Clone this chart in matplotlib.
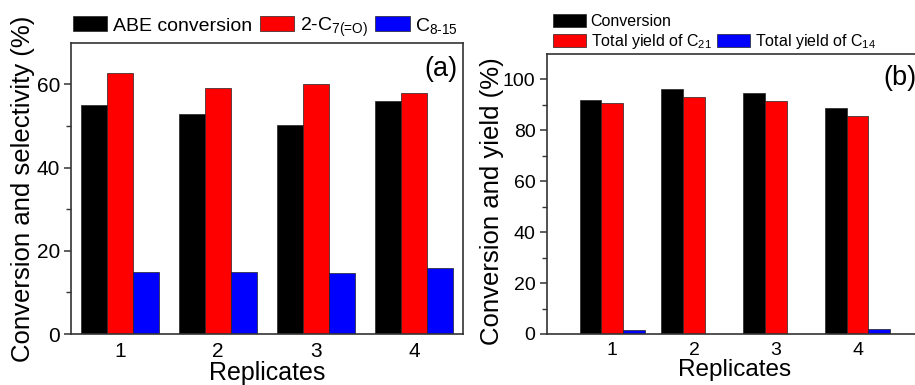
import matplotlib
matplotlib.use("Agg")
import matplotlib.pyplot as plt
import numpy as np
from matplotlib.patches import Patch

plt.rcParams['font.family'] = ['Liberation Sans', 'DejaVu Sans']
plt.rcParams['mathtext.fontset'] = 'custom'
plt.rcParams['mathtext.rm'] = 'Liberation Sans'
plt.rcParams['mathtext.default'] = 'regular'

replicates = ['1', '2', '3', '4']
# panel (a)
abe_conversion = [55.0, 52.8, 50.2, 56.0]
c7_selectivity = [62.6, 59.0, 60.1, 58.0]
c815_selectivity = [14.9, 14.9, 14.7, 15.8]
# panel (b)
conversion_b = [91.9, 96.1, 94.6, 88.6]
yield_c21 = [90.6, 93.0, 91.5, 85.7]
yield_c14 = [1.5, 0.0, 0.0, 2.1]

W, H = 915, 385
fig = plt.figure(figsize=(W / 100, H / 100), dpi=100)

def px_axes(x0, y0, x1, y1):
    return fig.add_axes([x0 / W, 1 - y1 / H, (x1 - x0) / W, (y1 - y0) / H])

ax1 = px_axes(71, 42.7, 463, 334)
ax2 = px_axes(546.7, 54, 923, 334)

x = np.arange(1, len(replicates) + 1)
bw = 0.266
ec = '#222222'
lw = 0.5

b1 = ax1.bar(x - bw, abe_conversion, bw, color='black', edgecolor=ec, linewidth=lw)
b2 = ax1.bar(x, c7_selectivity, bw, color='#FF0000', edgecolor=ec, linewidth=lw)
b3 = ax1.bar(x + bw, c815_selectivity, bw, color='#0000FF', edgecolor=ec, linewidth=lw)

c1 = ax2.bar(x - bw, conversion_b, bw, color='black', edgecolor=ec, linewidth=lw)
c2 = ax2.bar(x, yield_c21, bw, color='#FF0000', edgecolor=ec, linewidth=lw)
c3 = ax2.bar(x + bw, yield_c14, bw, color='#0000FF', edgecolor=ec, linewidth=lw)

ax1.set_xlim(0.5, 4.5)
ax1.set_ylim(0, 70)
ax2.set_xlim(0.2, 4.8)
ax2.set_ylim(0, 110)

for ax in (ax1, ax2):
    ax.set_xticks(x)
    ax.set_xticklabels(replicates)
    ax.tick_params(axis='x', length=0, pad=6)
    for s in ax.spines.values():
        s.set_linewidth(1.2)
        s.set_color('#333333')

ax1.set_yticks([0, 20, 40, 60])
ax1.set_yticks([10, 30, 50], minor=True)
ax1.tick_params(axis='y', which='major', direction='out', length=5, width=1.1, color='#333333', labelsize=15, pad=3)
ax1.tick_params(axis='y', which='minor', direction='out', length=3.5, width=1.0, color='#333333')
ax1.tick_params(axis='x', labelsize=15)
ax1.set_xlabel('Replicates', fontsize=18, labelpad=0)
ax1.set_ylabel('Conversion and selectivity (%)', fontsize=18.5)
ax1.yaxis.set_label_coords((23 - 71) / (463 - 71), 0.5)
ax1.yaxis.label.set_va('center')
ax1.text(0.985, 0.955, '(a)', transform=ax1.transAxes, ha='right', va='top', fontsize=19.5)

ax2.set_yticks([0, 20, 40, 60, 80, 100])
ax2.set_yticks([10, 30, 50, 70, 90], minor=True)
ax2.tick_params(axis='y', which='major', direction='out', length=5, width=1.1, color='#333333', labelsize=14, pad=3)
ax2.tick_params(axis='y', which='minor', direction='out', length=3.5, width=1.0, color='#333333')
ax2.tick_params(axis='x', labelsize=14)
ax2.set_xlabel('Replicates', fontsize=17.5, labelpad=0)
ax2.set_ylabel('Conversion and yield (%)', fontsize=18.5)
ax2.yaxis.set_label_coords((492 - 546.7) / (923 - 546.7), (334 - 201.5) / (334 - 54))
ax2.yaxis.label.set_va('center')
ax2.text(883 / W, 1 - 78 / H, '(b)', transform=fig.transFigure, ha='left', va='center', fontsize=19.5)

fig.legend([b1, b2, b3], ['ABE conversion', r'2-C$_{\text{7(=O)}}$', r'C$_{\text{8-15}}$'],
           loc='center left', bbox_to_anchor=(73 / W, 1 - 27 / H), ncol=3, frameon=False,
           fontsize=14, handlelength=1.75, handleheight=0.8, handletextpad=0.3,
           columnspacing=0.4, borderpad=0, borderaxespad=0)

blank = Patch(facecolor='none', edgecolor='none')
fig.legend([c1, c2, blank, c3], ['Conversion', r'Total yield of C$_{21}$', '', r'Total yield of C$_{14}$'],
           loc='upper left', bbox_to_anchor=(553 / W, 1 - 13.5 / H), ncol=2, frameon=False,
           fontsize=11.5, handlelength=2.05, handleheight=0.95, handletextpad=0.3,
           columnspacing=0.35, labelspacing=0.2, borderpad=0, borderaxespad=0)

fig.savefig('out.png', dpi=100)
